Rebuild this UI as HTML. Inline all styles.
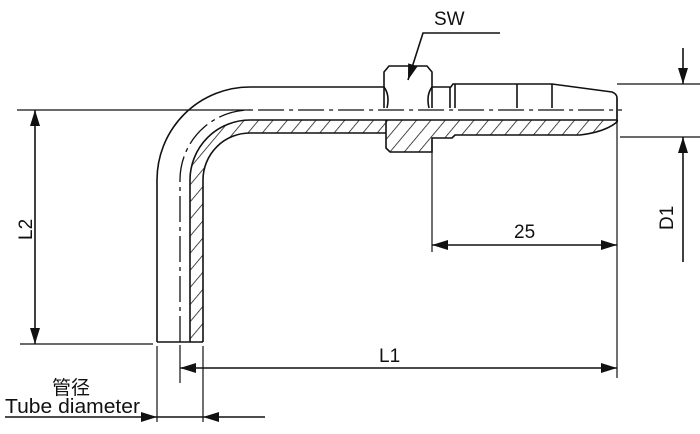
<!DOCTYPE html>
<html><head><meta charset="utf-8"><style>
html,body{margin:0;padding:0;background:#fff;}
svg{display:block;}
text{font-family:"Liberation Sans","Noto Sans CJK SC",sans-serif;fill:#111;}
</style></head><body>
<svg width="700" height="434" viewBox="0 0 700 434" xmlns="http://www.w3.org/2000/svg">
<defs>
<pattern id="h" patternUnits="userSpaceOnUse" width="11" height="11" patternTransform="rotate(40)">
<line x1="0" y1="0" x2="0" y2="11" stroke="#111" stroke-width="1.5"/>
</pattern>
<marker id="a" markerWidth="16" markerHeight="10" refX="16" refY="5" orient="auto-start-reverse" markerUnits="userSpaceOnUse">
<path d="M0,0 L16,5 L0,10 Z" fill="#111"/>
</marker>
</defs>
<g fill="none" stroke="#111" stroke-width="1.6">
<path d="M190,342 V180 A60,60 0 0 1 250,120 H616 L617,122 Q605,132 580,135 H455 L452,138 H432 V152 H390 L386,148 V133 H250 A47,47 0 0 0 203,180 V342 Z" fill="url(#h)" stroke="none"/>
<path d="M190,342 L190,180 A60,60 0 0 1 250,120 L616,120 Q618,120 617,122"/>
<path d="M203,342 L203,180 A47,47 0 0 1 250,133 L386,133"/>
<path d="M386,120 L386,148 L390,152 L432,152 L432,138 L452,138 L455,135 L580,135 Q605,132 617,122"/>
<path d="M157,342 L157,180 A93,93 0 0 1 250,87 L384,87"/>
<line x1="157" y1="342" x2="203" y2="342"/>
<path d="M384,108 L384,72 L389,66 L427,66 L432,72 L432,108"/>
<path d="M384,87 Q390,95 387,108 M432,87 Q426,95 429,108"/>
<line x1="432" y1="87" x2="450" y2="87"/>
<path d="M450,108 L450,88 L453,84 L552,84 L612,92 Q617,94 617,98 L617,122"/>
<line x1="455" y1="84" x2="455" y2="108"/>
<line x1="517" y1="84" x2="517" y2="108"/>
<line x1="552" y1="84" x2="552" y2="108"/>
<path d="M180,342 L180,180 A70,70 0 0 1 250,110 L622,110" stroke-dasharray="26,5,4,5" stroke-width="1.3"/>
<line x1="17" y1="110" x2="250" y2="110" stroke-width="1.2"/>
<line x1="20" y1="344" x2="153" y2="344" stroke-width="1.2"/>
<line x1="617" y1="98" x2="617" y2="378" stroke-width="1.2"/>
<line x1="432" y1="140" x2="432" y2="252" stroke-width="1.2"/>
<line x1="617" y1="84" x2="700" y2="84" stroke-width="1.2"/>
<line x1="620" y1="137" x2="700" y2="137" stroke-width="1.2"/>
<line x1="157" y1="346" x2="157" y2="422" stroke-width="1.2"/>
<line x1="203" y1="346" x2="203" y2="422" stroke-width="1.2"/>
<line x1="180" y1="345" x2="180" y2="383" stroke-width="1.2"/>
<line x1="35" y1="110" x2="35" y2="344" marker-start="url(#a)" marker-end="url(#a)"/>
<line x1="432" y1="245" x2="617" y2="245" marker-start="url(#a)" marker-end="url(#a)"/>
<line x1="180" y1="368" x2="617" y2="368" marker-start="url(#a)" marker-end="url(#a)"/>
<line x1="683" y1="48" x2="683" y2="84" marker-end="url(#a)"/>
<line x1="683" y1="262" x2="683" y2="137" marker-end="url(#a)"/>
<line x1="5" y1="417" x2="157" y2="417" marker-end="url(#a)"/>
<line x1="265" y1="417" x2="203" y2="417" marker-end="url(#a)"/>
<line x1="157" y1="417" x2="203" y2="417"/>
<polyline points="500,33 423,33 408,80" marker-end="url(#a)"/>
</g>
<text x="434" y="25" font-size="19">SW</text>
<text x="514" y="238" font-size="19">25</text>
<text x="379" y="362" font-size="19">L1</text>
<text transform="translate(32,240) rotate(-90)" font-size="19">L2</text>
<text transform="translate(673,230) rotate(-90)" font-size="19">D1</text>
<text x="52" y="394" font-size="19">管径</text>
<text x="5" y="413" font-size="20" textLength="135" lengthAdjust="spacingAndGlyphs">Tube diameter</text>
</svg>
</body></html>
